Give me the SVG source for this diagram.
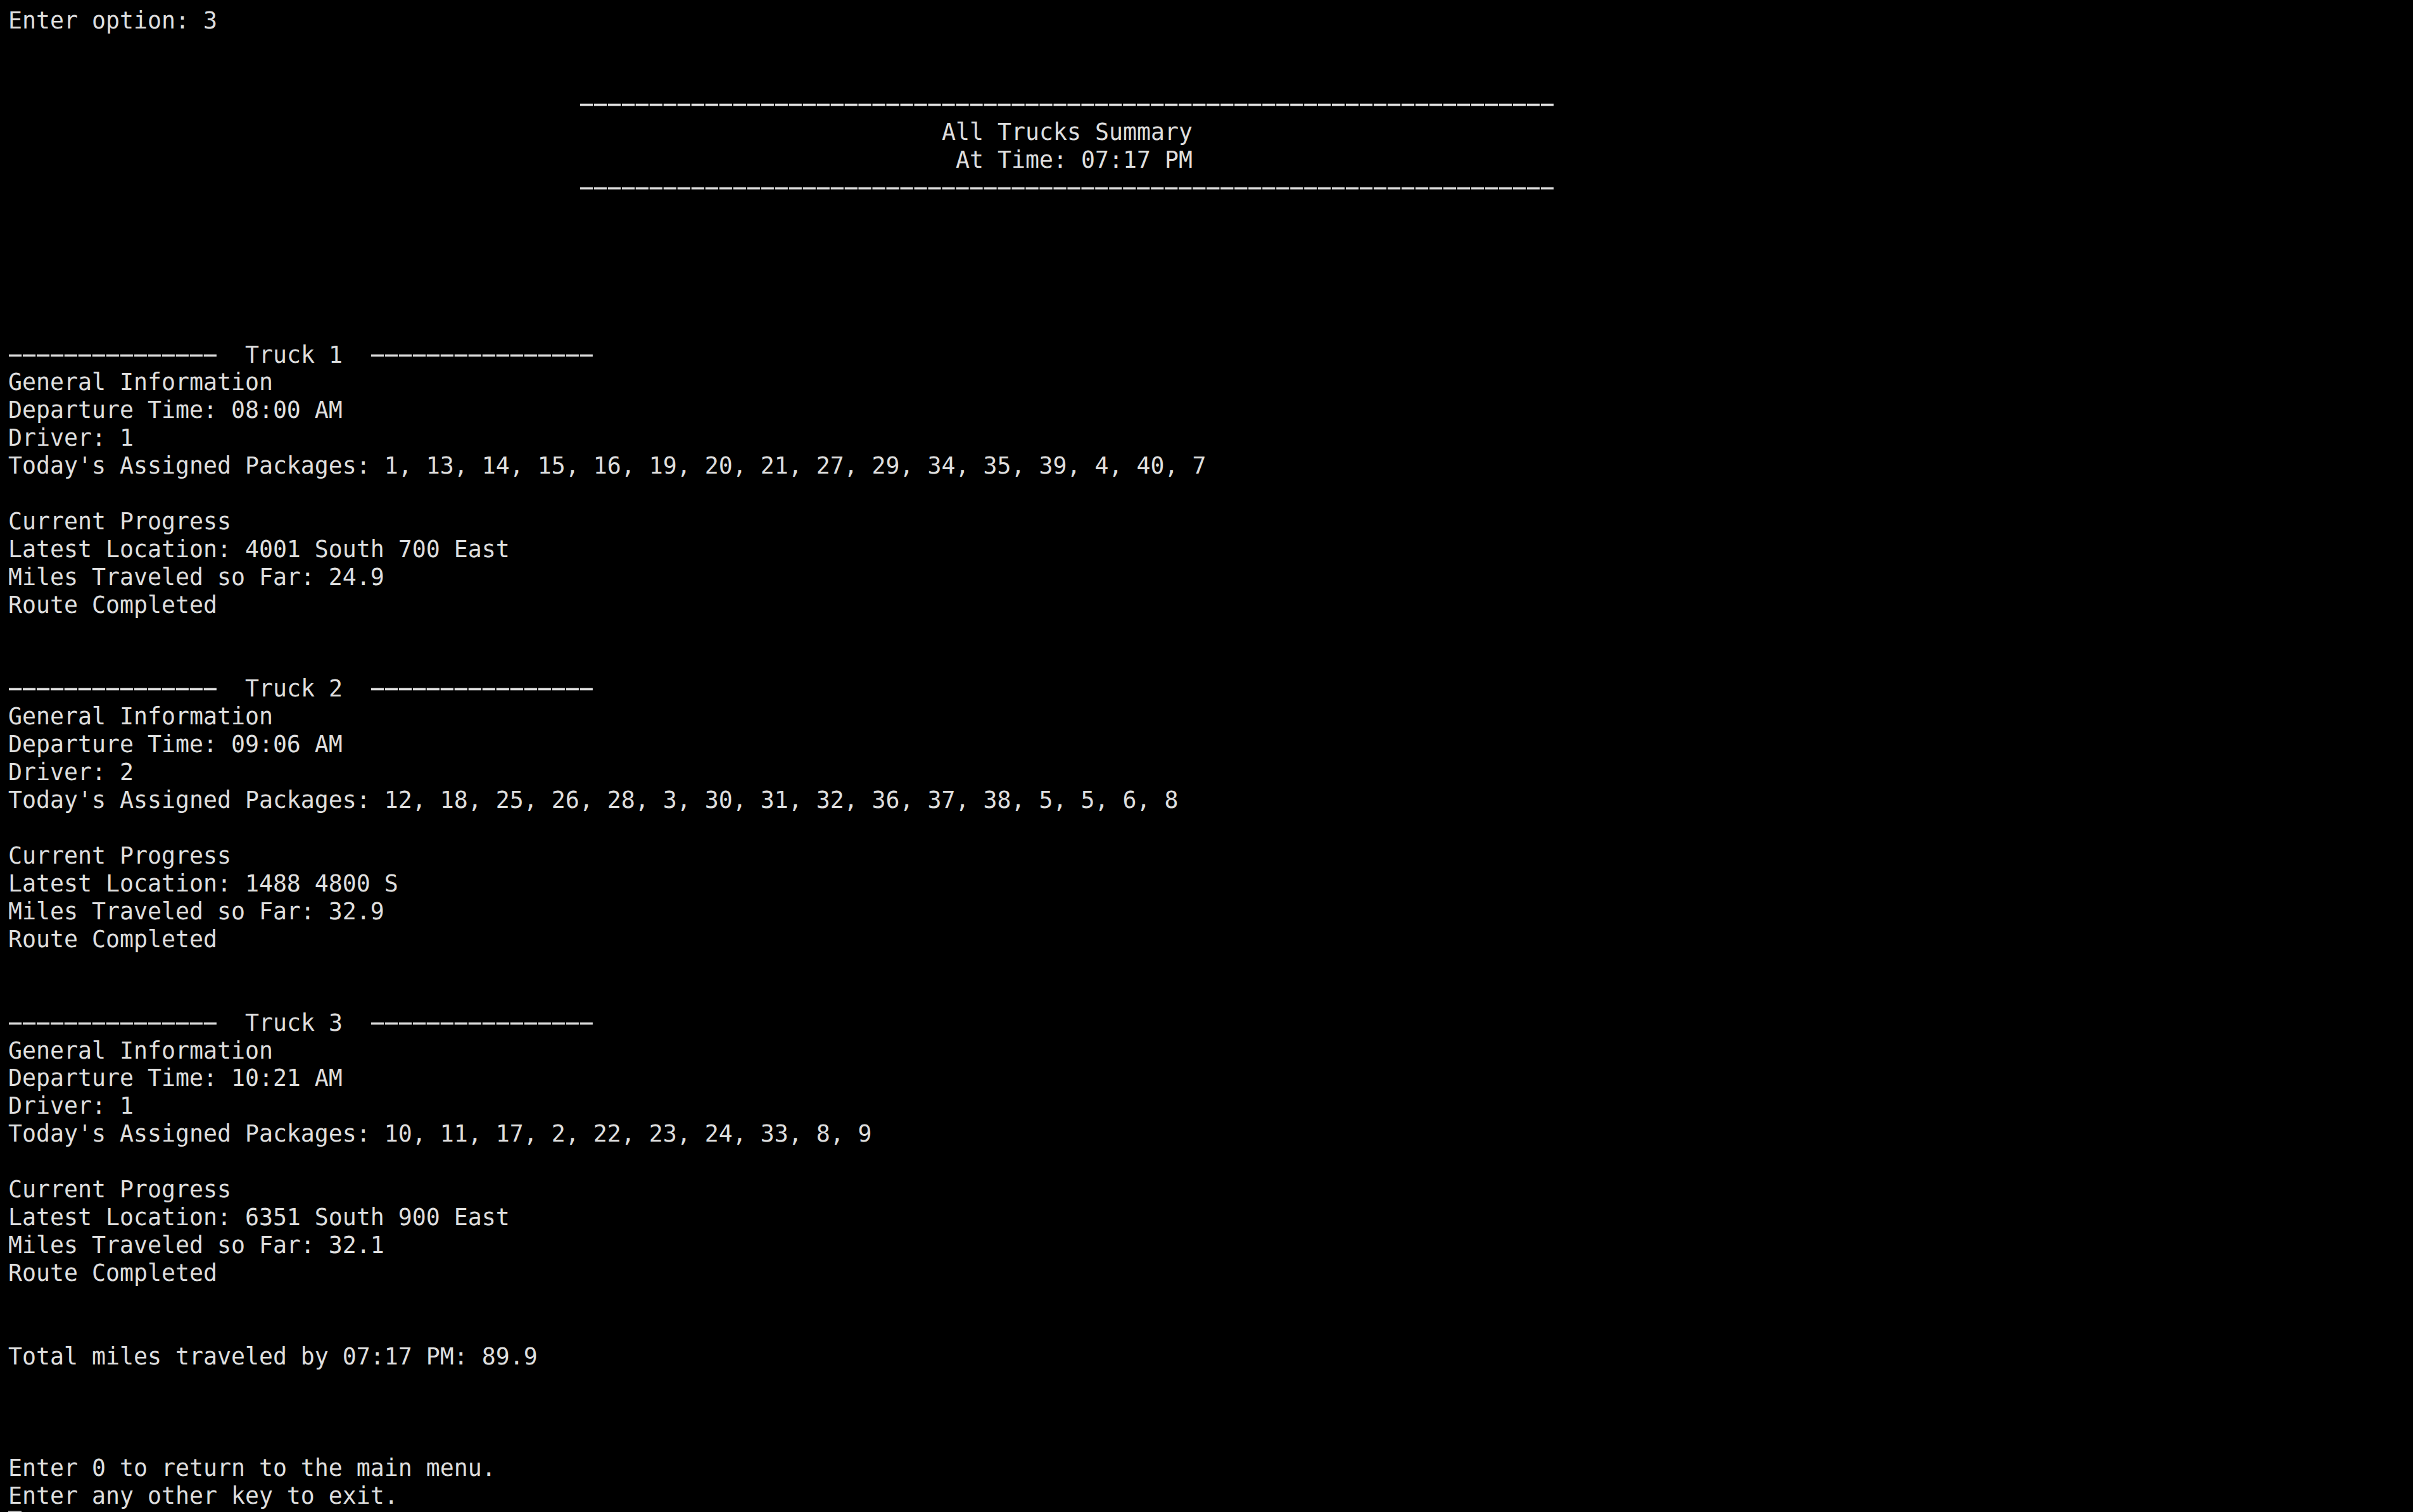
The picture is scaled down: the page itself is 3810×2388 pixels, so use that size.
<svg xmlns="http://www.w3.org/2000/svg" width="3810" height="2388" viewBox="0 0 3810 2388">
<style>
  text { font-family: "DejaVu Sans Mono", "Liberation Mono", monospace; font-size: 36.54px; fill: #dedede; }
  .dash { letter-spacing: -11.163px; stroke: #dedede; stroke-width: 0.6px; }
</style>
<rect x="0" y="0" width="3810" height="2388" fill="#000000"/>

<g id="prompt">
  <text x="13" y="45">Enter option: 3</text>
</g>

<g id="summary-header">
  <text class="dash" transform="translate(903.68 175.88) scale(2.03 1)">----------------------------------------------------------------------</text>
  <text x="1487" y="220.84">All Trucks Summary</text>
  <text x="1509" y="264.8">At Time: 07:17 PM</text>
  <text class="dash" transform="translate(903.68 307.76) scale(2.03 1)">----------------------------------------------------------------------</text>
</g>

<g id="truck-1">
  <text class="dash" transform="translate(1.68 571.52) scale(2.03 1)">---------------</text>
  <text x="387" y="572.52">Truck 1</text>
  <text class="dash" transform="translate(573.68 571.52) scale(2.03 1)">----------------</text>
  <text x="13" y="616.48">General Information</text>
  <text x="13" y="660.44">Departure Time: 08:00 AM</text>
  <text x="13" y="704.4">Driver: 1</text>
  <text x="13" y="748.36">Today's Assigned Packages: 1, 13, 14, 15, 16, 19, 20, 21, 27, 29, 34, 35, 39, 4, 40, 7</text>
  <text x="13" y="836.28">Current Progress</text>
  <text x="13" y="880.24">Latest Location: 4001 South 700 East</text>
  <text x="13" y="924.2">Miles Traveled so Far: 24.9</text>
  <text x="13" y="968.16">Route Completed</text>
</g>

<g id="truck-2">
  <text class="dash" transform="translate(1.68 1099.04) scale(2.03 1)">---------------</text>
  <text x="387" y="1100.04">Truck 2</text>
  <text class="dash" transform="translate(573.68 1099.04) scale(2.03 1)">----------------</text>
  <text x="13" y="1144">General Information</text>
  <text x="13" y="1187.96">Departure Time: 09:06 AM</text>
  <text x="13" y="1231.92">Driver: 2</text>
  <text x="13" y="1275.88">Today's Assigned Packages: 12, 18, 25, 26, 28, 3, 30, 31, 32, 36, 37, 38, 5, 5, 6, 8</text>
  <text x="13" y="1363.8">Current Progress</text>
  <text x="13" y="1407.76">Latest Location: 1488 4800 S</text>
  <text x="13" y="1451.72">Miles Traveled so Far: 32.9</text>
  <text x="13" y="1495.68">Route Completed</text>
</g>

<g id="truck-3">
  <text class="dash" transform="translate(1.68 1626.56) scale(2.03 1)">---------------</text>
  <text x="387" y="1627.56">Truck 3</text>
  <text class="dash" transform="translate(573.68 1626.56) scale(2.03 1)">----------------</text>
  <text x="13" y="1671.52">General Information</text>
  <text x="13" y="1715.48">Departure Time: 10:21 AM</text>
  <text x="13" y="1759.44">Driver: 1</text>
  <text x="13" y="1803.4">Today's Assigned Packages: 10, 11, 17, 2, 22, 23, 24, 33, 8, 9</text>
  <text x="13" y="1891.32">Current Progress</text>
  <text x="13" y="1935.28">Latest Location: 6351 South 900 East</text>
  <text x="13" y="1979.24">Miles Traveled so Far: 32.1</text>
  <text x="13" y="2023.2">Route Completed</text>
</g>

<g id="footer">
  <text x="13" y="2155.08">Total miles traveled by 07:17 PM: 89.9</text>
  <text x="13" y="2330.92">Enter 0 to return to the main menu.</text>
  <text x="13" y="2374.88">Enter any other key to exit.</text>
  <rect id="cursor" x="13" y="2386" width="21" height="2" fill="#a8a8a8"/>
</g>

<g id="connectors"></g>
</svg>
